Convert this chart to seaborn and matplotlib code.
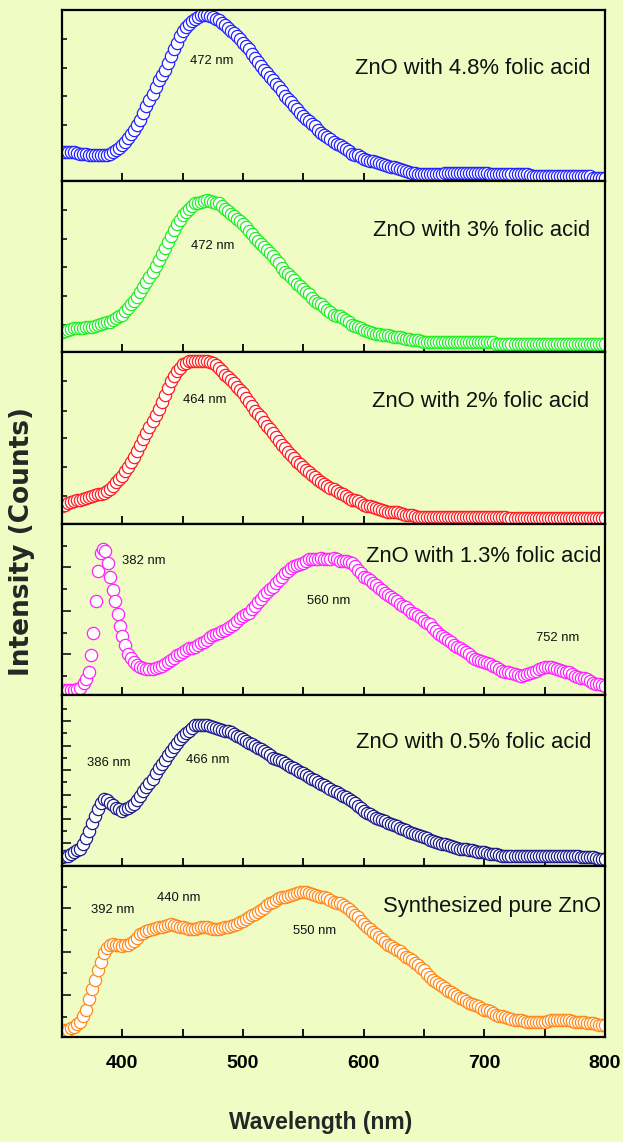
import numpy as np
import matplotlib
matplotlib.use("Agg")
import matplotlib.pyplot as plt
from matplotlib.ticker import FixedLocator, MultipleLocator
import seaborn as sns

# ---------------- data ----------------
WAVELENGTH = np.arange(350, 800.1, 2.5)

INT_48 = [17, 17, 17, 17, 17, 16.5, 16, 16, 16, 15.5, 15, 15, 15, 15, 15, 15.5,
          16, 17, 18, 19.5, 21, 23, 25, 27.5, 30, 33, 36, 40, 44, 47.5, 51, 55,
          59, 62, 65, 69, 73, 77, 81, 85, 88, 90, 92, 93.5, 95, 96, 97, 97,
          97, 96.5, 96, 95, 94, 92.5, 91, 89.5, 88, 86.5, 85, 83, 81, 79, 77, 74.5,
          72, 69.5, 67, 65, 63, 61, 59, 57, 55, 52.5, 50, 48, 46, 44, 42, 40,
          38, 36.5, 35, 33.5, 32, 30, 28, 27, 26, 24.5, 23, 22, 21, 20, 19, 17.5,
          16, 15.5, 15, 14, 13, 12.5, 12, 11.5, 11, 10.5, 10, 9.5, 9, 8.5, 8, 7.5,
          7, 6.5, 6, 5.5, 5, 4.5, 4, 4, 4, 4, 4, 4, 4, 4, 4, 4.5,
          5, 5, 5, 5, 5, 5, 5, 5, 5, 5, 5, 5, 5, 4.5, 4, 4,
          4, 4, 4, 4, 4, 4, 4, 4, 4, 4, 4, 3.5, 3, 3, 3, 3,
          3, 3, 3, 3, 3, 3, 3, 3, 3, 3, 3, 3, 3, 3, 3, 3,
          2, 2, 2, 2, 2]

INT_30 = [12, 12.5, 13, 13.5, 14, 14, 14, 14.5, 15, 15, 15, 15.5, 16, 16.5, 17, 17.5,
          18, 19, 20, 21, 22, 24, 26, 28, 30, 32.5, 35, 38, 41, 44, 47, 50.5,
          54, 57.5, 61, 64.5, 68, 71.5, 75, 77.5, 80, 82, 84, 85.5, 87, 87.5, 88, 88.5,
          89, 88.5, 88, 87.5, 87, 85.5, 84, 82.5, 81, 79.5, 78, 76.5, 75, 73, 71, 69,
          67, 65, 63, 61.5, 60, 58, 56, 54, 52, 49.5, 47, 45.5, 44, 42, 40, 38.5,
          37, 35.5, 34, 32, 30, 29, 28, 26.5, 25, 23.5, 22, 21.5, 21, 20, 19, 17.5,
          16, 15.5, 15, 14, 13, 12.5, 12, 11.5, 11, 10.5, 10, 10, 10, 9.5, 9, 9,
          9, 8.5, 8, 7.5, 7, 7, 7, 6.5, 6, 6, 6, 6, 6, 6, 6, 6,
          6, 6, 6, 6, 6, 6, 6, 6, 6, 6, 6, 6, 6, 6, 6, 6,
          5, 5, 5, 5, 5, 5, 5, 5, 5, 5, 5, 5, 5, 5, 5, 5,
          5, 5, 5, 5, 5, 5, 5, 5, 5, 5, 5, 5, 5, 5, 5, 5,
          5, 5, 5, 5, 5]

INT_20 = [10, 11, 12, 12.5, 13, 13.5, 14, 14.5, 15, 15.5, 16, 16.5, 17, 17.5, 18, 19,
          20, 22, 24, 26, 28, 30.5, 33, 36, 39, 42.5, 46, 49.5, 53, 56.5, 60, 63.5,
          67, 71, 75, 79, 83, 86, 89, 91, 93, 94, 95, 95, 95, 95, 95, 95,
          95, 94.5, 94, 92.5, 91, 89, 87, 85.5, 84, 82, 80, 78, 76, 73.5, 71, 68.5,
          66, 64, 62, 59.5, 57, 55, 53, 50.5, 48, 46, 44, 42, 40, 38, 36, 34.5,
          33, 31.5, 30, 28.5, 27, 25.5, 24, 23, 22, 21, 20, 19, 18, 17, 16, 15,
          14, 13.5, 13, 12, 11, 10.5, 10, 9.5, 9, 8.5, 8, 7.5, 7, 7, 7, 6.5,
          6, 5.5, 5, 5, 5, 4.5, 4, 4, 4, 4, 4, 4, 4, 4, 4, 4,
          4, 4, 4, 4, 4, 4, 4, 4, 4, 4, 4, 4, 4, 4, 4, 4,
          4, 4, 4, 4, 3, 3, 3, 3, 3, 3, 3, 3, 3, 3, 3, 3,
          3, 3, 3, 3, 3, 3, 3, 3, 3, 3, 3, 3, 3, 3, 3, 3,
          3, 3, 3, 3, 3]

WAVELENGTH_13 = np.concatenate([np.arange(350, 366, 2.5), np.arange(368, 403, 2),
                                np.arange(405, 800.1, 2.5)])
INT_13 = [2, 2.5, 3, 3, 3, 3.5, 4,
          7, 9, 13, 23, 36, 55, 72, 83, 85, 84, 77, 69, 61, 55, 47, 40, 34, 29,
          24, 21.5, 19, 17.5, 16, 15.5, 15, 15, 15, 15.5, 16, 17, 18, 19, 20, 21.5,
          23, 24, 25, 26, 27, 27.5, 28, 29, 30, 31, 32, 33.5, 35, 35.5, 36, 37,
          38, 39, 40, 41.5, 43, 44.5, 46, 47, 48, 50, 52, 54, 56, 58, 60, 61.5,
          63, 65, 67, 69, 71, 72.5, 74, 75, 76, 76.5, 77, 78, 79, 79, 79, 79.5,
          80, 79.5, 79, 79.5, 80, 79, 78, 78, 78, 77.5, 77, 75, 73, 71, 69, 68,
          67, 65.5, 64, 62.5, 61, 59.5, 58, 57, 56, 54.5, 53, 52, 51, 49.5, 48, 47,
          46, 44.5, 43, 42, 41, 39, 37, 35.5, 34, 33, 32, 30.5, 29, 28, 27, 26,
          25, 23.5, 22, 21, 20, 19.5, 19, 18.5, 18, 17, 16, 15, 14, 13.5, 13, 12.5,
          12, 11.5, 11, 11.5, 12, 12.5, 13, 14, 15, 15.5, 16, 16, 16, 15.5, 15, 14.5,
          14, 13.5, 13, 12, 11, 10.5, 10, 9.5, 9, 8, 7, 6.5, 6, 5.5, 5]

INT_05 = [5, 5.5, 6, 7, 8, 9, 10, 12.5, 16, 20.5, 25, 29, 33, 36.5, 39, 38.5,
          37, 35.5, 34, 33, 32, 33, 34, 35, 36, 38.5, 41, 43.5, 46, 48.5, 51, 54,
          57, 59.5, 62, 64.5, 67, 69.5, 72, 74, 76, 77.5, 79, 80.5, 82, 82, 82, 82,
          82, 81.5, 81, 80.5, 80, 79.5, 79, 78.5, 78, 77, 76, 75, 74, 73, 72, 71,
          70, 69, 68, 67, 66, 64.5, 63, 62.5, 62, 61, 60, 59, 58, 57, 56, 55,
          54, 53, 52, 51, 50, 49, 48, 47, 46, 45, 44, 43, 42, 41, 40, 39,
          38, 36.5, 35, 33.5, 32, 31, 30, 29, 28, 27.5, 27, 26, 25, 24.5, 24, 23,
          22, 21.5, 21, 20, 19, 18.5, 18, 17.5, 17, 16, 15, 14.5, 14, 13.5, 13, 12.5,
          12, 11.5, 11, 10.5, 10, 10, 10, 9.5, 9, 8.5, 8, 8, 8, 7.5, 7, 7,
          7, 6.5, 6, 6, 6, 6, 6, 6, 6, 6, 6, 6, 6, 6, 6, 6,
          6, 6, 6, 6, 6, 6, 6, 6, 6, 6, 6, 6, 5, 5, 5, 5,
          5, 4.5, 4, 4, 4]

INT_PURE = [4, 4, 4, 5, 6, 7.5, 9, 12, 16, 22, 28, 33.5, 39, 44, 49, 52,
            54, 54.5, 54, 53.5, 53, 53.5, 54, 55, 56, 58, 60, 61, 62, 62.5, 63, 63.5,
            64, 64.5, 65, 65.5, 66, 65.5, 65, 64.5, 64, 63.5, 63, 63, 63, 63.5, 64, 64,
            64, 63.5, 63, 63, 63, 63.5, 64, 64.5, 65, 65.5, 66, 67, 68, 69, 70, 71,
            72, 73, 74, 75.5, 77, 78, 79, 80, 81, 81.5, 82, 82.5, 83, 83.5, 84, 84.5,
            85, 84.5, 84, 83.5, 83, 82.5, 82, 81.5, 81, 80, 79, 78.5, 78, 77, 76, 74.5,
            73, 71.5, 70, 68, 66, 64.5, 63, 61.5, 60, 58.5, 57, 55.5, 54, 53, 52, 51,
            50, 48.5, 47, 46, 45, 43.5, 42, 40.5, 39, 37, 35, 33.5, 32, 31, 30, 28.5,
            27, 26, 25, 24, 23, 22, 21, 20, 19, 18.5, 18, 17, 16, 15.5, 15, 14,
            13, 12.5, 12, 11.5, 11, 10.5, 10, 10, 10, 9.5, 9, 9, 9, 9, 9, 9,
            9, 9.5, 10, 10, 10, 10, 10, 10, 10, 9.5, 9, 9, 9, 8.5, 8, 8,
            8, 7.5, 7, 7, 7]

LABELS = ["ZnO with 4.8% folic acid", "ZnO with 3% folic acid", "ZnO with 2% folic acid",
          "ZnO with 1.3% folic acid", "ZnO with 0.5% folic acid", "Synthesized pure ZnO"]
PEAK_TEXT = [["472 nm"], ["472 nm"], ["464 nm"], ["382 nm", "560 nm", "752 nm"],
             ["386 nm", "466 nm"], ["392 nm", "440 nm", "550 nm"]]
X_TICKS = [400, 500, 600, 700, 800]

for arr in (INT_48, INT_30, INT_20, INT_05, INT_PURE):
    assert len(arr) == len(WAVELENGTH), len(arr)
assert len(INT_13) == len(WAVELENGTH_13), (len(INT_13), len(WAVELENGTH_13))

# ---------------- styling / layout ----------------
BG = "#EFFCC4"
COLORS = ["#2323FF", "#22EE22", "#FF1E1E", "#FF22FF", "#1C1C8A", "#FF8A1A"]
SERIES = [(WAVELENGTH, INT_48), (WAVELENGTH, INT_30), (WAVELENGTH, INT_20),
          (WAVELENGTH_13, INT_13), (WAVELENGTH, INT_05), (WAVELENGTH, INT_PURE)]
PEAK_POS = [[(474, 70)], [(475, 62)], [(468, 72)],
            [(418, 78), (571, 55), (761, 33)],
            [(389, 60), (471, 62)],
            [(392, 74), (447, 81), (559, 62)]]
LABEL_POS = [(788, 66), (788, 71), (787, 71), (797, 81), (789, 72), (797, 76)]
YTICKS = [
    ([16, 33, 50, 66, 83], []),
    ([16, 33, 50, 66, 83], []),
    ([16, 33, 50, 66, 83], []),
    ([23.5, 49, 74.5], [11, 36.3, 61.6, 86.6]),
    ([13.1, 27.3, 41.5, 55.9, 70.2, 84.4], [5.8, 20.1, 34.5, 48.7, 63, 77.4, 91.6]),
    ([24.6, 49.9, 75.2], [11.9, 37.2, 62.6, 87.9]),
]
YMAJ_LEN = [3.8, 3.8, 3.8, 6.5, 6.5, 6.5]

sns.set_theme(style="white")
plt.rcParams["font.family"] = ["Liberation Sans", "DejaVu Sans"]

fig, axes = plt.subplots(6, 1, figsize=(6.23, 11.42), dpi=100, sharex=True)
fig.patch.set_facecolor(BG)
fig.subplots_adjust(left=62 / 623, right=605 / 623, top=1 - 10 / 1142,
                    bottom=(1142 - 1037) / 1142, hspace=0)

for i, ax in enumerate(axes):
    ax.set_facecolor(BG)
    wl, inten = SERIES[i]
    sns.scatterplot(x=wl, y=inten, ax=ax, marker="o", s=78,
                    facecolor="white", edgecolor=COLORS[i], linewidth=0.9, zorder=3)
    ax.set_xlim(350, 800)
    ax.set_ylim(0, 100)
    for sp in ax.spines.values():
        sp.set_color("black")
        sp.set_linewidth(1.6)
        sp.set_visible(True)
        sp.set_zorder(5)
    ax.xaxis.set_major_locator(FixedLocator(X_TICKS))
    ax.xaxis.set_minor_locator(MultipleLocator(50))
    ax.yaxis.set_major_locator(FixedLocator(YTICKS[i][0]))
    ax.yaxis.set_minor_locator(FixedLocator(YTICKS[i][1]))
    ax.tick_params(axis="x", which="both", direction="in", length=6, width=1.3,
                   bottom=True, top=False, colors="black")
    ax.tick_params(axis="y", which="major", direction="in", length=YMAJ_LEN[i], width=1.3,
                   left=True, right=False, labelleft=False)
    ax.tick_params(axis="y", which="minor", direction="in", length=3.4, width=1.3,
                   left=True, right=False)
    ax.set_ylabel("")
    ax.set_xlabel("")
    if i < 5:
        ax.tick_params(axis="x", labelbottom=False)
    for txt, (px, py) in zip(PEAK_TEXT[i], PEAK_POS[i]):
        ax.text(px, py, txt, ha="center", va="center", fontsize=9.4, color="#111111",
                zorder=6)
    lx, ly = LABEL_POS[i]
    ax.text(lx, ly, LABELS[i], ha="right", va="center", fontsize=15.8, color="#111111",
            zorder=6)

axes[-1].tick_params(axis="x", which="major", labelsize=14, pad=13)
for lab in axes[-1].get_xticklabels():
    lab.set_fontweight("bold")

fig.text(321 / 623, 1 - 1123 / 1142, "Wavelength (nm)", ha="center", va="center",
         fontsize=16.5, fontweight="bold")
fig.text(22 / 623, 1 - 542 / 1142, "Intensity (Counts)", rotation=90, ha="center",
         va="center", fontsize=19, fontweight="bold", family=["DejaVu Sans"])

fig.savefig("out.png", dpi=100, facecolor=BG)
